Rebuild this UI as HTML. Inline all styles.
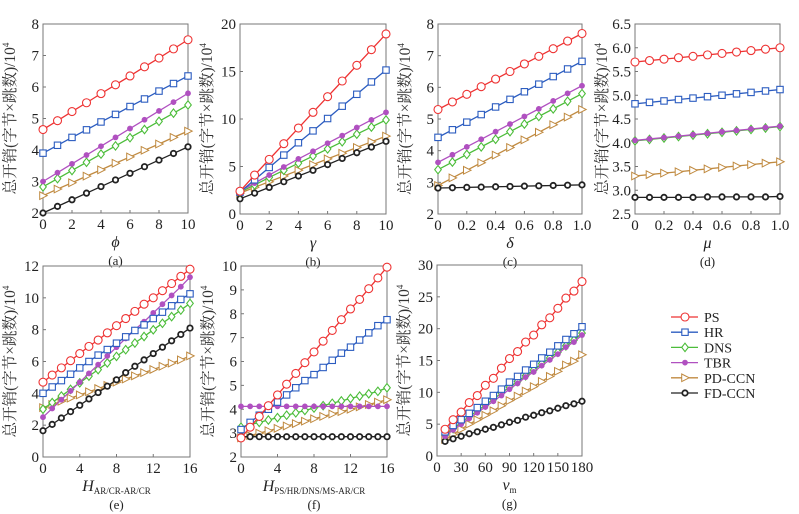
<!DOCTYPE html>
<html><head><meta charset="utf-8">
<style>
body{margin:0;background:#fff;}
svg{display:block;font-family:"Liberation Serif","Noto Serif CJK SC",serif;}
</style></head>
<body>
<svg id="fig" width="799" height="514" viewBox="0 0 799 514" xmlns="http://www.w3.org/2000/svg"></svg>
<script>
const seriesNames=["PS","HR","DNS","TBR","PD-CCN","FD-CCN"];
// panel (a)
const aX=[0,1,2,3,4,5,6,7,8,9,10];
const aPS=[4.65,4.93,5.22,5.5,5.79,6.07,6.35,6.64,6.92,7.21,7.5];
const aHR=[3.9,4.15,4.4,4.64,4.89,5.13,5.38,5.62,5.87,6.11,6.35];
const aDNS=[2.83,3.09,3.35,3.61,3.87,4.13,4.39,4.65,4.91,5.17,5.43];
const aTBR=[3.0,3.28,3.56,3.84,4.12,4.4,4.68,4.96,5.24,5.52,5.8];
const aPD=[2.55,2.76,2.96,3.17,3.37,3.58,3.78,3.99,4.19,4.4,4.6];
const aFD=[2.0,2.21,2.42,2.63,2.84,3.05,3.26,3.47,3.68,3.89,4.1];
const aXTicks=[0,2,4,6,8,10];const aYTicks=[2,3,4,5,6,7,8];
// panel (b)
const bX=[0,1,2,3,4,5,6,7,8,9,10];
const bPS=[2.4,4.1,5.75,7.4,9.05,10.7,12.35,14.0,15.65,17.3,18.95];
const bHR=[2.3,3.6,4.9,6.2,7.5,8.75,10.05,11.35,12.6,13.9,15.15];
const bDNS=[2.3,3.05,3.85,4.6,5.35,6.1,6.85,7.6,8.4,9.15,9.9];
const bTBR=[2.4,3.25,4.1,4.95,5.8,6.6,7.45,8.25,9.1,9.9,10.7];
const bPD=[2.2,2.8,3.4,4.0,4.6,5.2,5.8,6.4,7.0,7.6,8.2];
const bFD=[1.6,2.2,2.8,3.4,4.0,4.6,5.2,5.85,6.45,7.05,7.65];
const bXTicks=[0,2,4,6,8,10];const bYTicks=[0,5,10,15,20];
// panel (c)
const cX=[0,0.1,0.2,0.3,0.4,0.5,0.6,0.7,0.8,0.9,1.0];
const cPS=[5.3,5.54,5.78,6.02,6.26,6.5,6.74,6.98,7.22,7.46,7.7];
const cHR=[4.42,4.66,4.9,5.14,5.38,5.62,5.86,6.1,6.34,6.58,6.82];
const cDNS=[3.4,3.64,3.88,4.12,4.36,4.6,4.84,5.08,5.32,5.56,5.8];
const cTBR=[3.63,3.87,4.12,4.36,4.6,4.84,5.08,5.32,5.57,5.81,6.05];
const cPD=[2.9,3.14,3.38,3.62,3.86,4.1,4.34,4.58,4.82,5.06,5.3];
const cFD=[2.82,2.83,2.84,2.85,2.86,2.87,2.88,2.89,2.9,2.91,2.92];
const cXTicks=[0,0.2,0.4,0.6,0.8,1.0];const cXLabels=["0","0.2","0.4","0.6","0.8","1.0"];const cYTicks=[2,3,4,5,6,7,8];
// panel (d)
const dX=[0,0.1,0.2,0.3,0.4,0.5,0.6,0.7,0.8,0.9,1.0];
const dPS=[5.7,5.73,5.76,5.79,5.82,5.85,5.88,5.91,5.94,5.97,6.0];
const dHR=[4.82,4.85,4.88,4.91,4.94,4.97,5.0,5.03,5.06,5.09,5.12];
const dDNS=[4.04,4.07,4.1,4.13,4.16,4.19,4.22,4.25,4.28,4.31,4.34];
const dTBR=[4.05,4.08,4.11,4.14,4.17,4.2,4.23,4.26,4.29,4.32,4.35];
const dPD=[3.3,3.33,3.36,3.39,3.42,3.45,3.48,3.51,3.54,3.57,3.6];
const dFD=[2.85,2.85,2.85,2.85,2.85,2.86,2.86,2.86,2.86,2.86,2.87];
const dXTicks=[0,0.2,0.4,0.6,0.8,1.0];const dXLabels=["0","0.2","0.4","0.6","0.8","1.0"];
const dYTicks=[2.5,3.0,3.5,4.0,4.5,5.0,5.5,6.0,6.5];const dYLabels=["2.5","3.0","3.5","4.0","4.5","5.0","5.5","6.0","6.5"];
// panel (e)
const eX=[0,1,2,3,4,5,6,7,8,9,10,11,12,13,14,15,16];
const ePS=[4.7,5.15,5.6,6.05,6.5,6.95,7.35,7.8,8.25,8.7,9.15,9.6,10.0,10.45,10.9,11.35,11.8];
const eHR=[4.0,4.4,4.8,5.2,5.6,6.0,6.4,6.75,7.15,7.55,7.95,8.3,8.7,9.1,9.5,9.9,10.25];
const eDNS=[3.0,3.42,3.83,4.25,4.66,5.08,5.49,5.91,6.32,6.74,7.16,7.57,7.99,8.4,8.82,9.23,9.65];
const eTBR=[2.5,3.05,3.6,4.15,4.7,5.25,5.8,6.35,6.9,7.45,8.0,8.5,9.05,9.6,10.15,10.7,11.3];
const ePD=[3.1,3.3,3.5,3.7,3.9,4.1,4.3,4.5,4.7,4.9,5.1,5.3,5.5,5.7,5.9,6.1,6.35];
const eFD=[1.65,2.05,2.45,2.85,3.25,3.65,4.05,4.45,4.85,5.3,5.7,6.1,6.5,6.9,7.3,7.7,8.1];
const eXTicks=[0,4,8,12,16];const eYTicks=[0,2,4,6,8,10,12];
// panel (f)
const fX=[0,1,2,3,4,5,6,7,8,9,10,11,12,13,14,15,16];
const fPS=[2.8,3.25,3.7,4.15,4.6,5.05,5.5,5.95,6.4,6.85,7.3,7.75,8.2,8.6,9.05,9.5,9.95];
const fHR=[3.15,3.45,3.75,4.0,4.3,4.6,4.9,5.2,5.45,5.75,6.05,6.35,6.6,6.9,7.2,7.5,7.75];
const fDNS=[3.25,3.35,3.45,3.55,3.65,3.75,3.85,3.95,4.05,4.15,4.25,4.35,4.45,4.55,4.65,4.75,4.9];
const fTBR=[4.12,4.12,4.12,4.12,4.12,4.12,4.12,4.12,4.12,4.12,4.12,4.12,4.12,4.12,4.12,4.12,4.12];
const fPD=[2.8,2.9,3.0,3.1,3.2,3.3,3.4,3.5,3.6,3.7,3.8,3.9,4.0,4.1,4.2,4.3,4.4];
const fFD=[2.85,2.85,2.85,2.85,2.85,2.85,2.85,2.85,2.85,2.85,2.85,2.85,2.85,2.85,2.85,2.85,2.85];
const fXTicks=[0,4,8,12,16];const fYTicks=[2,3,4,5,6,7,8,9,10];
// panel (g)
const gX=[10,20,30,40,50,60,70,80,90,100,110,120,130,140,150,160,170,180];
const gPS=[4.2,5.7,6.9,8.4,9.5,11.1,12.2,13.8,15.3,16.4,17.9,19.0,20.6,21.7,23.2,24.8,25.9,27.4];
const gHR=[3.8,4.8,5.7,6.7,7.6,8.6,9.5,10.5,11.6,12.5,13.5,14.4,15.4,16.3,17.3,18.3,19.2,20.3];
const gDNS=[3.3,4.3,5.3,6.2,7.1,8.0,8.9,9.9,10.8,11.7,12.6,13.5,14.5,15.4,16.3,17.3,18.2,19.3];
const gTBR=[3.1,4.1,5.0,5.9,6.8,7.7,8.6,9.5,10.5,11.4,12.4,13.2,14.2,15.1,16.0,17.1,17.9,19.0];
const gPD=[2.6,3.4,4.2,5.0,5.7,6.4,7.1,7.9,8.7,9.4,10.2,10.9,11.7,12.5,13.3,14.3,14.9,15.9];
const gFD=[2.3,2.7,3.1,3.5,3.8,4.2,4.5,4.9,5.3,5.6,6.1,6.4,6.8,7.1,7.5,7.9,8.2,8.6];
const gXTicks=[0,30,60,90,120,150,180];const gYTicks=[0,5,10,15,20,25,30];

const NS="http://www.w3.org/2000/svg";
const svg=document.getElementById('fig');
const colors={"PS":"#ee3333","HR":"#2b5cc0","DNS":"#4cbd3a","TBR":"#b050c0","PD-CCN":"#c08a40","FD-CCN":"#222222"};
function mk(tag,attrs,parent){const e=document.createElementNS(NS,tag);for(const k in attrs)e.setAttribute(k,attrs[k]);(parent||svg).appendChild(e);return e;}
function marker(g,name,x,y){
  const c=colors[name];let m;
  if(name==="PS"){m=mk('circle',{cx:x,cy:y,r:4,fill:'#fff',stroke:c,'stroke-width':1.1},g);}
  else if(name==="HR"){m=mk('rect',{x:x-3.2,y:y-3.2,width:6.4,height:6.4,fill:'#fff',stroke:c,'stroke-width':1.1},g);}
  else if(name==="DNS"){m=mk('polygon',{points:`${x},${y-4.2} ${x+3.3},${y} ${x},${y+4.2} ${x-3.3},${y}`,fill:'#fff',stroke:c,'stroke-width':1.1},g);}
  else if(name==="TBR"){m=mk('circle',{cx:x,cy:y,r:2.6,fill:c,stroke:c,'stroke-width':0.6},g);}
  else if(name==="PD-CCN"){m=mk('polygon',{points:`${x-3.3},${y-3.8} ${x+4.2},${y} ${x-3.3},${y+3.8}`,fill:'#fff',stroke:c,'stroke-width':1},g);}
  else {m=mk('circle',{cx:x,cy:y,r:2.7,fill:'#fff',stroke:c,'stroke-width':1.8},g);}
  
  
}
function panel(id,box,xDom,yDom,xs,series,xTicks,xLabels,yTicks,yLabels,xTitleHTML,cap){
  const [L,R,T,B]=box;
  const sx=v=>L+(v-xDom[0])/(xDom[1]-xDom[0])*(R-L);
  const sy=v=>B-(v-yDom[0])/(yDom[1]-yDom[0])*(B-T);
  const g=mk('g',{});
  
  
  const fr=mk('rect',{x:L,y:T,width:R-L,height:B-T,fill:'none',stroke:'#777','stroke-width':1},g);
  
  
  xTicks.forEach((t,i)=>{const x=sx(t);
    mk('line',{x1:x,x2:x,y1:B,y2:B-3,stroke:'#777'},g);
    const tx=mk('text',{x:x,y:B+16,'text-anchor':'middle','font-size':15,fill:'#222'},g);tx.textContent=xLabels?xLabels[i]:String(t);
    
    });
  yTicks.forEach((t,i)=>{const y=sy(t);
    mk('line',{x1:L,x2:L+3,y1:y,y2:y,stroke:'#777'},g);
    const tx=mk('text',{x:L-4,y:y+5,'text-anchor':'end','font-size':15,fill:'#222'},g);tx.textContent=yLabels?yLabels[i]:String(t);
    
    });
  const yt=mk('text',{x:0,y:0,transform:`translate(${L-28},${(T+B)/2}) rotate(-90)`,'text-anchor':'middle','font-size':15.5,fill:'#333'},g);
  yt.innerHTML='总开销(字节×跳数)/10<tspan font-size="9" dy="-6">4</tspan>';
  
  
  const xt=mk('text',{x:(L+R)/2,y:B+34,'text-anchor':'middle','font-size':16,fill:'#222'},g);
  xt.innerHTML=xTitleHTML;
  
  
  const cp=mk('text',{x:(L+R)/2,y:B+52,'text-anchor':'middle','font-size':13,fill:'#222'},g);cp.textContent=cap;
  
  
  series.forEach(([name,vals])=>{
    const sg=mk('g',{},g);
    
    
    const pts=vals.map((v,i)=>sx(xs[i])+','+sy(v)).join(' ');
    mk('polyline',{points:pts,fill:'none',stroke:colors[name],'stroke-width':1.3},sg);
    vals.forEach((v,i)=>marker(sg,name,sx(xs[i]),sy(v)));
  });
}
const ord=(ps,hr,dns,tbr,pd,fd)=>[["PD-CCN",pd],["FD-CCN",fd],["DNS",dns],["TBR",tbr],["HR",hr],["PS",ps]];
panel('a',[43,188,24,213],[0,10],[2,8],aX,ord(aPS,aHR,aDNS,aTBR,aPD,aFD),aXTicks,null,aYTicks,null,'<tspan font-style="italic">ϕ</tspan>','(a)');
panel('b',[240,386,24,214],[0,10],[0,20],bX,ord(bPS,bHR,bDNS,bTBR,bPD,bFD),bXTicks,null,bYTicks,null,'<tspan font-style="italic">γ</tspan>','(b)');
panel('c',[438,582,24,214],[0,1],[2,8],cX,ord(cPS,cHR,cDNS,cTBR,cPD,cFD),cXTicks,cXLabels,cYTicks,null,'<tspan font-style="italic">δ</tspan>','(c)');
panel('d',[635,780,24,214],[0,1],[2.5,6.5],dX,ord(dPS,dHR,dDNS,dTBR,dPD,dFD),dXTicks,dXLabels,dYTicks,dYLabels,'<tspan font-style="italic">μ</tspan>','(d)');
panel('e',[43,190,266,457],[0,16],[0,12],eX,ord(ePS,eHR,eDNS,eTBR,ePD,eFD),eXTicks,null,eYTicks,null,'<tspan font-style="italic">H</tspan><tspan font-size="9" dy="3">AR/CR-AR/CR</tspan>','(e)');
panel('f',[241,387,266,457],[0,16],[2,10],fX,ord(fPS,fHR,fDNS,fTBR,fPD,fFD),fXTicks,null,fYTicks,null,'<tspan font-style="italic">H</tspan><tspan font-size="9" dy="3">PS/HR/DNS/MS-AR/CR</tspan>','(f)');
panel('g',[437,582,265,456],[0,180],[0,30],gX,ord(gPS,gHR,gDNS,gTBR,gPD,gFD),gXTicks,null,gYTicks,null,'<tspan font-style="italic">v</tspan><tspan font-size="9" dy="3">m</tspan>','(g)');
// legend
const lg=mk('g',{});


seriesNames.forEach((n,i)=>{
  const y=317+i*15.2;
  const eg=mk('g',{},lg);
  
  
  mk('line',{x1:671,x2:698,y1:y,y2:y,stroke:colors[n],'stroke-width':1.3},eg);
  marker(eg,n,685,y);
  const t=mk('text',{x:704,y:y+5,'font-size':14,fill:'#222'},eg);t.textContent=n;
});
</script>
</body></html>
